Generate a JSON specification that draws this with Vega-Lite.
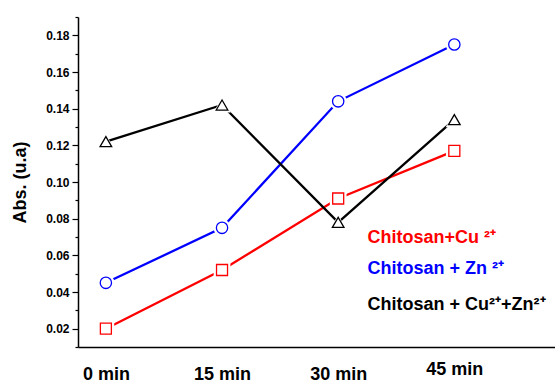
{
  "$schema": "https://vega.github.io/schema/vega-lite/v6.json",
  "width": 477,
  "height": 330,
  "autosize": {"type": "none"},
  "padding": {"left": 78, "top": 17, "right": 0, "bottom": 36},
  "background": "white",
  "config": {
    "view": {"stroke": null},
    "font": "Liberation Sans",
    "axis": {"domainColor": "black", "domainWidth": 1.5, "tickColor": "black", "tickWidth": 1.2, "grid": false, "labelFont": "Liberation Sans", "labelFontWeight": "bold", "titleFont": "Liberation Sans", "titleFontWeight": "bold", "labelColor": "black", "titleColor": "black", "labelOverlap": false}
  },
  "datasets": {
    "points": [
      {"series": "Cu", "t": 0, "v": 0.020},
      {"series": "Cu", "t": 15, "v": 0.052},
      {"series": "Cu", "t": 30, "v": 0.091},
      {"series": "Cu", "t": 45, "v": 0.117},
      {"series": "Zn", "t": 0, "v": 0.045},
      {"series": "Zn", "t": 15, "v": 0.075},
      {"series": "Zn", "t": 30, "v": 0.144},
      {"series": "Zn", "t": 45, "v": 0.175},
      {"series": "CuZn", "t": 0, "v": 0.122},
      {"series": "CuZn", "t": 15, "v": 0.142},
      {"series": "CuZn", "t": 30, "v": 0.078},
      {"series": "CuZn", "t": 45, "v": 0.134}
    ],
    "notes": [
      {"series": "Cu", "label": "Chitosan+Cu ²⁺", "t": 33.8, "v": 0.0695},
      {"series": "Zn", "label": "Chitosan + Zn ²⁺", "t": 33.8, "v": 0.0525},
      {"series": "CuZn", "label": "Chitosan + Cu²⁺+Zn²⁺", "t": 33.8, "v": 0.033}
    ]
  },
  "encoding": {
    "x": {"field": "t", "type": "quantitative", "scale": {"domain": [-3.6, 58], "nice": false, "zero": false},
          "axis": {"values": [0, 15, 30, 45], "labelExpr": "datum.value + ' min'", "ticks": false, "labelFontSize": 18, "labelBaseline": "top", "labelPadding": {"condition": {"test": "datum.value == 45", "value": 13}, "value": 18}, "title": null, "domainWidth": 1.5}},
    "y": {"field": "v", "type": "quantitative", "scale": {"domain": [0.01, 0.19], "nice": false, "zero": false},
          "axis": {"values": [0.01, 0.02, 0.03, 0.04, 0.05, 0.06, 0.07, 0.08, 0.09, 0.1, 0.11, 0.12, 0.13, 0.14, 0.15, 0.16, 0.17, 0.18, 0.19],
                   "format": ".2f",
                   "labelOpacity": {"condition": {"test": "round(datum.value * 100) % 2 == 0", "value": 1}, "value": 0},
                   "tickSize": {"condition": {"test": "round(datum.value * 100) % 2 == 0", "value": 6}, "value": 3},
                   "labelFontSize": 12, "labelPadding": 3, "title": "Abs. (u.a)", "titleFontSize": 18, "titlePadding": 16}},
    "color": {"field": "series", "type": "nominal", "scale": {"domain": ["Cu", "Zn", "CuZn"], "range": ["#ff0000", "#0000ff", "#000000"]}, "legend": null}
  },
  "layer": [
    {
      "data": {"name": "points"},
      "mark": {"type": "line", "strokeWidth": 2.3},
      "encoding": {"detail": {"field": "series"}}
    },
    {
      "data": {"name": "points"},
      "mark": {"type": "point", "filled": true, "opacity": 1},
      "encoding": {
        "color": {"value": "white"},
        "shape": {"field": "series", "type": "nominal", "scale": {"domain": ["Cu", "Zn", "CuZn"], "range": ["square", "circle", "triangle-up"]}, "legend": null},
        "size": {"field": "series", "type": "nominal", "scale": {"domain": ["Cu", "Zn", "CuZn"], "range": [280, 300, 420]}, "legend": null}
      }
    },
    {
      "data": {"name": "points"},
      "mark": {"type": "point", "filled": false, "fill": "white", "fillOpacity": 1, "opacity": 1, "strokeWidth": 1.3},
      "encoding": {
        "shape": {"field": "series", "type": "nominal", "legend": null},
        "size": {"field": "series", "type": "nominal", "scale": {"domain": ["Cu", "Zn", "CuZn"], "range": [121, 135, 210]}, "legend": null}
      }
    },
    {
      "data": {"name": "notes"},
      "mark": {"type": "text", "align": "left", "baseline": "middle", "fontSize": 18, "fontWeight": "bold", "font": "Liberation Sans"},
      "encoding": {
        "text": {"field": "label"}
      }
    }
  ],
  "resolve": {"scale": {"size": "independent"}}
}
